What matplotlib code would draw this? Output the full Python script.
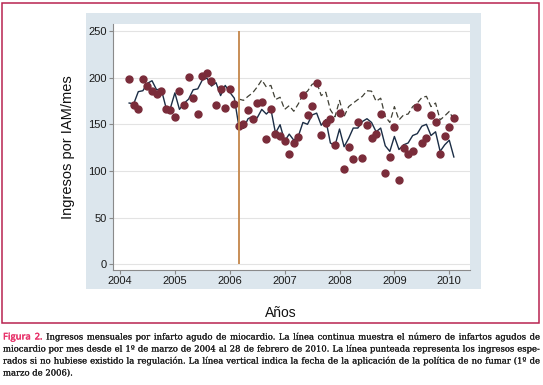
import matplotlib
matplotlib.use("Agg")
import matplotlib.pyplot as plt
import matplotlib.patheffects as pe
from matplotlib.font_manager import FontProperties
from matplotlib.patches import Rectangle
import numpy as np

# ---------------- data (monthly, March 2004 - February 2010) ----------------
start_year = 2004
start_month = 3  # March
observed = [199, 171, 166, 199, 191, 185.5, 183, 186, 166, 165.6, 158, 186,
            171, 200.7, 178.6, 161, 202, 205, 196, 171, 188, 168, 188, 172,
            148, 150, 165, 156, 172.6, 174, 134, 166, 140, 138, 132, 118.6,
            130, 136, 181.5, 160, 169.6, 193.8, 139, 151, 155.5, 128, 162, 101.6,
            125.8, 112.7, 152, 114, 149, 135, 139.5, 161, 98, 114.8, 147, 90.8,
            124.3, 118.5, 121.4, 169, 130.5, 135, 160, 152, 118, 138, 147, 157]
fitted = [172.8, 172, 185, 186, 194, 196.7, 187, 188, 169, 167, 183.7, 166,
          172.5, 177, 187, 188, 197.5, 199.6, 191, 194.6, 180.8, 191.7, 184.4, 178,
          147.5, 145.7, 156, 158.4, 157, 166, 161, 166, 140.6, 149.6, 132, 139.5,
          133, 137.4, 152, 150, 160, 162, 149, 155, 130, 127, 145, 126,
          135, 146, 146, 153, 156, 152, 142, 146, 127, 121, 137, 123,
          128, 130, 138, 140, 148, 150, 138, 142, 121, 128, 133, 115]
expected = [177, 175.7, 180, 183.7, 190, 197.5, 190, 191.7, 176.5, 179, 166, 170,
            164, 172, 182, 185.5, 192.8, 195, 180.8, 184.4, 165.6, 158, 175.6, 158.4,
            169, 172.8, 176.5, 180, 186, 185.5, 174.7, 178, 158.4, 152, 169, 154.7,
            160, 161, 169, 172.8, 178.7, 180, 169, 172.8, 154.7, 159, 163.8, 154.7]
policy_year, policy_month = 2006, 3
year_ticks = [2004, 2005, 2006, 2007, 2008, 2009, 2010]
y_ticks = [0, 50, 100, 150, 200, 250]
y_label = "Ingresos por IAM/mes"
x_label = "Años"
caption_lines = [
    "Figura 2. Ingresos mensuales por infarto agudo de miocardio. La línea continua muestra el número de infartos agudos de",
    "miocardio por mes desde el 1º de marzo de 2004 al 28 de febrero de 2010. La línea punteada representa los ingresos espe-",
    "rados si no hubiese existido la regulación. La línea vertical indica la fecha de la aplicación de la política de no fumar (1º de",
    "marzo de 2006).",
]

# ---------------- figure ----------------
W, H = 543, 385
fig = plt.figure(figsize=(W / 100, H / 100), dpi=100)
fig.patch.set_facecolor("white")


def fx(px):
    return px / W


def fy(py):
    return 1 - py / H


# light panel behind the graph
fig.patches.append(Rectangle((fx(86), fy(289)), (481 - 86) / W, (289 - 13) / H,
                             transform=fig.transFigure, facecolor="#dce6ed",
                             edgecolor="none", zorder=-2))
# outer frame
fig.patches.append(Rectangle((fx(2), fy(323)), (539 - 2) / W, (323 - 3) / H,
                             transform=fig.transFigure, fill=False,
                             edgecolor="#b8234f", lw=1.1, zorder=-1))

ax = fig.add_axes([fx(113), fy(270), (470 - 113) / W, (270 - 24) / H])
ax.set_facecolor("white")

n = len(observed)
t = start_year + (start_month - 1 + np.arange(n)) / 12.0
i0 = (policy_year - start_year) * 12 + (policy_month - start_month)
t_exp = t[i0:i0 + len(expected)]
t_pol = policy_year + (policy_month - 1) / 12.0

for yv in y_ticks:
    ax.axhline(yv, color="#e3e3e3", lw=0.8, zorder=0)

ax.plot(t_exp, expected, color="#404035", lw=0.9, dashes=(4.5, 2.5), zorder=2)
ax.plot(t, fitted, color="#1b2d45", lw=1.0, zorder=2)
ax.plot(t, observed, "o", color="#7a2c3a", ms=5.0, mec="#7a2c3a", zorder=3)
ax.vlines(t_pol, 0, 250, color="#c4864a", lw=1.3, zorder=4)

x0 = 2004 - 7 / 54.88
x1 = 2004 + 350 / 54.88
ax.set_xlim(x0, x1)
ax.set_ylim(-6.1, 257.5)
ax.set_xticks(year_ticks)
ax.set_xticklabels([str(y) for y in year_ticks])
ax.set_yticks(y_ticks)
ax.set_yticklabels([str(v) for v in y_ticks])

for s in ["top", "right"]:
    ax.spines[s].set_visible(False)
for s in ["left", "bottom"]:
    ax.spines[s].set_color("#8a8a8a")
    ax.spines[s].set_linewidth(0.8)
ax.tick_params(axis="both", direction="out", length=3, width=0.8, color="#8a8a8a",
               labelsize=8, labelcolor="#1a1a1a", pad=1.5)
for lab in ax.get_xticklabels() + ax.get_yticklabels():
    lab.set_fontfamily("Liberation Sans")

fig.text(fx(68), fy(147), y_label, rotation=90, ha="center", va="center",
         fontsize=10.5, family="Liberation Sans", color="#111111")
fig.text(fx(281), fy(313), x_label, ha="center", va="center",
         fontsize=10, family="Liberation Sans", color="#111111")

# ---------------- justified caption ----------------
fig.canvas.draw()
renderer = fig.canvas.get_renderer()

SERIF = "DejaVu Serif"
PINK = "Open Sans"


def width(s, fp):
    w, h, d = renderer.get_text_width_height_descent(s, fp, ismath=False)
    return w


def tokens(i, line):
    words = line.split(" ")
    return [(wd, "pink" if (i == 0 and j < 2) else "serif") for j, wd in enumerate(words)]


left, right = 3, 540
avail = right - left

base = 7.0
fp_b = FontProperties(family=SERIF, size=base)
mx = max(width(l, fp_b) for l in caption_lines[:3])
size = base * avail * 0.99 / mx
fps = {"serif": FontProperties(family=SERIF, size=size),
       "pink": FontProperties(family=PINK, size=size + 0.6, weight="semibold")}

baselines = [339.5, 351.5, 363.5, 375.5]
for i, line in enumerate(caption_lines):
    toks = tokens(i, line)
    ws = [width(w, fps[k]) for w, k in toks]
    if i < len(caption_lines) - 1:
        gap = (avail - sum(ws)) / (len(toks) - 1)
    else:
        gap = width("a a", fps["serif"]) - 2 * width("a", fps["serif"])
    x = left
    for (wd, kind), w in zip(toks, ws):
        col = "#e8336b" if kind == "pink" else "#1a1a1a"
        fig.text(fx(x), fy(baselines[i]), wd, ha="left", va="baseline",
                 fontproperties=fps[kind], color=col,
                 path_effects=[pe.withStroke(linewidth=0.12, foreground=col)])
        x += w + gap

fig.savefig("out.png", dpi=100)
